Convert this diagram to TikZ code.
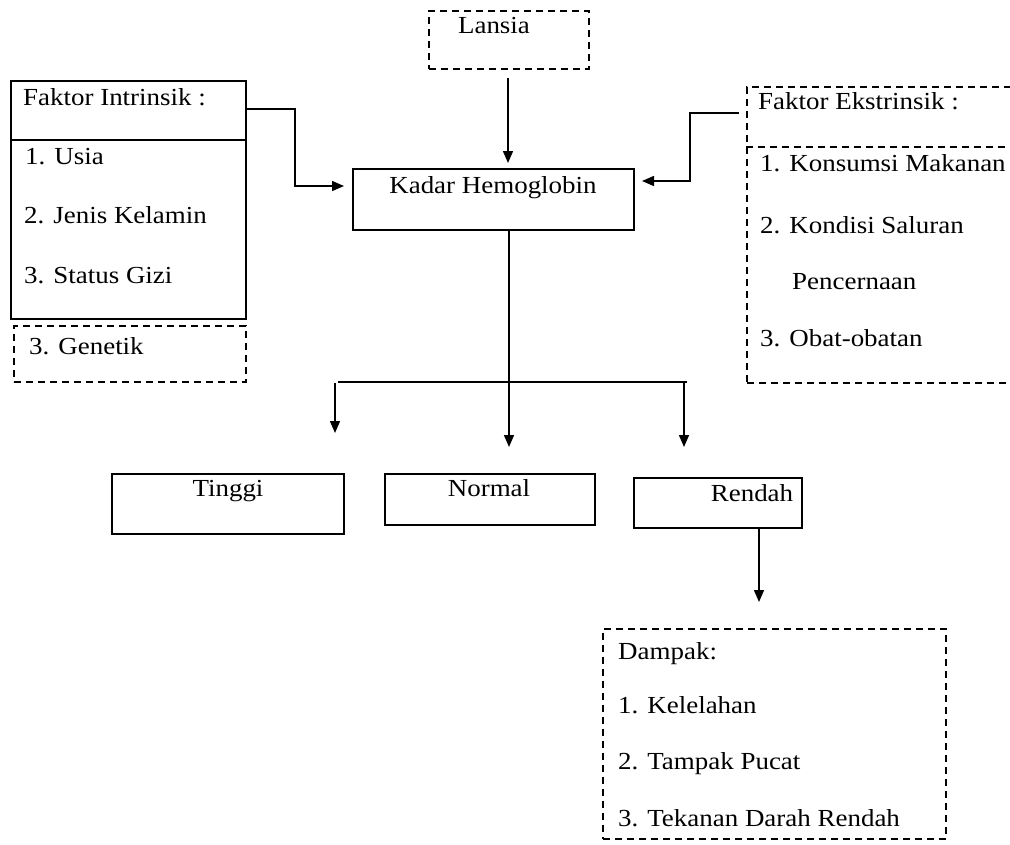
\documentclass[tikz,border=0pt]{standalone}
\usepackage{fontspec}
\setmainfont[FakeStretch=1.1]{Liberation Serif}
\usetikzlibrary{arrows.meta}
\begin{document}
\begin{tikzpicture}[x=1pt,y=-1pt,
  solidbox/.style={draw, line width=1.5pt, inner sep=0pt, anchor=north west},
  dashbox/.style={solidbox, dash pattern=on 7pt off 5pt},
  txt/.style={inner sep=0pt, font=\fontsize{24.5}{29}\selectfont},
  conn/.style={line width=1.5pt},
  arr/.style={line width=1.5pt, -{Triangle[width=10pt,length=12pt]}}]
\useasboundingbox (0,0) rectangle (1010,844);
% boxes
\node[dashbox, minimum width=160pt, minimum height=58pt] (lansia) at (428,10) {};
\node[solidbox, minimum width=281pt, minimum height=61pt] (kadar) at (352,168) {};
\node[solidbox, minimum width=235pt, minimum height=238pt] (intr) at (10,80) {};
\node[dashbox, minimum width=232pt, minimum height=56pt] (gen) at (13,325) {};
\node[dashbox, minimum width=290pt, minimum height=296pt] (ext) at (746,86) {};
\node[solidbox, minimum width=232pt, minimum height=60pt] (tinggi) at (111,473) {};
\node[solidbox, minimum width=210pt, minimum height=51pt] (normal) at (384,473) {};
\node[solidbox, minimum width=168pt, minimum height=50pt] (rendah) at (633,477) {};
\node[dashbox, minimum width=343pt, minimum height=210pt] (dampak) at (602,628) {};
% dividers
\coordinate (idiv) at (0,140);
\coordinate (ediv) at (0,147);
\draw[conn] (intr.west |- idiv) -- (intr.east |- idiv);
\draw[conn, dash pattern=on 7pt off 5pt] (ext.west |- ediv) -- (ext.east |- ediv);
% texts
\node[txt, anchor=base] (tlansia) at (494,33) {Lansia};
\node[txt, anchor=base] (tkadar) at (493,193) {Kadar Hemoglobin};
\node[txt, anchor=base west] (ti0) at (23,105) {Faktor Intrinsik :};
\node[txt, anchor=base west] (ti1) at (25,164) {1. Usia};
\node[txt, anchor=base west] (ti2) at (24,223) {2. Jenis Kelamin};
\node[txt, anchor=base west] (ti3) at (24,283) {3. Status Gizi};
\node[txt, anchor=base west] (tgen) at (29,354) {3. Genetik};
\node[txt, anchor=base west] (te0) at (758,109) {Faktor Ekstrinsik :};
\node[txt, anchor=base west] (te1) at (760,171) {1. Konsumsi Makanan};
\node[txt, anchor=base west] (te2) at (760,233) {2. Kondisi Saluran};
\node[txt, anchor=base west] (te3) at (792,289) {Pencernaan};
\node[txt, anchor=base west] (te4) at (760,346) {3. Obat-obatan};
\node[txt, anchor=base] (ttinggi) at (228,496) {Tinggi};
\node[txt, anchor=base] (tnormal) at (489,496) {Normal};
\node[txt, anchor=base] (trendah) at (752,501) {Rendah};
\node[txt, anchor=base west] (td0) at (618,659) {Dampak:};
\node[txt, anchor=base west] (td1) at (618,713) {1. Kelelahan};
\node[txt, anchor=base west] (td2) at (618,769) {2. Tampak Pucat};
\node[txt, anchor=base west] (td3) at (618,826) {3. Tekanan Darah Rendah};
% connectors
\coordinate (lout) at (508,78);
\coordinate (lin) at (508,163);
\draw[arr] (lout) -- (lin);
\coordinate (iy) at (0,109);
\coordinate (ibend) at (295,109);
\coordinate (ktipL) at (344,186);
\draw[arr] (intr.east |- iy) -- (ibend) |- (ktipL);
\coordinate (ey) at (0,113);
\coordinate (ebend) at (690,113);
\coordinate (ktipR) at (642,181);
\draw[arr] ([xshift=-7pt]ext.west |- ey) -- (ebend) |- (ktipR);
\coordinate (mid) at (509,229);
\coordinate (midtip) at (509,447);
\draw[arr] (mid) -- (midtip);
\coordinate (barL) at (338,382);
\coordinate (barR) at (687,382);
\draw[conn] (barL) -- (barR);
\coordinate (lstart) at (335,383);
\coordinate (ltip) at (335,433);
\draw[arr] (lstart) -- (ltip);
\coordinate (rstart) at (684,382);
\coordinate (rtip) at (684,447);
\draw[arr] (rstart) -- (rtip);
\coordinate (rdstart) at (759,527);
\coordinate (rdtip) at (759,602);
\draw[arr] (rdstart) -- (rdtip);
\end{tikzpicture}
\end{document}
